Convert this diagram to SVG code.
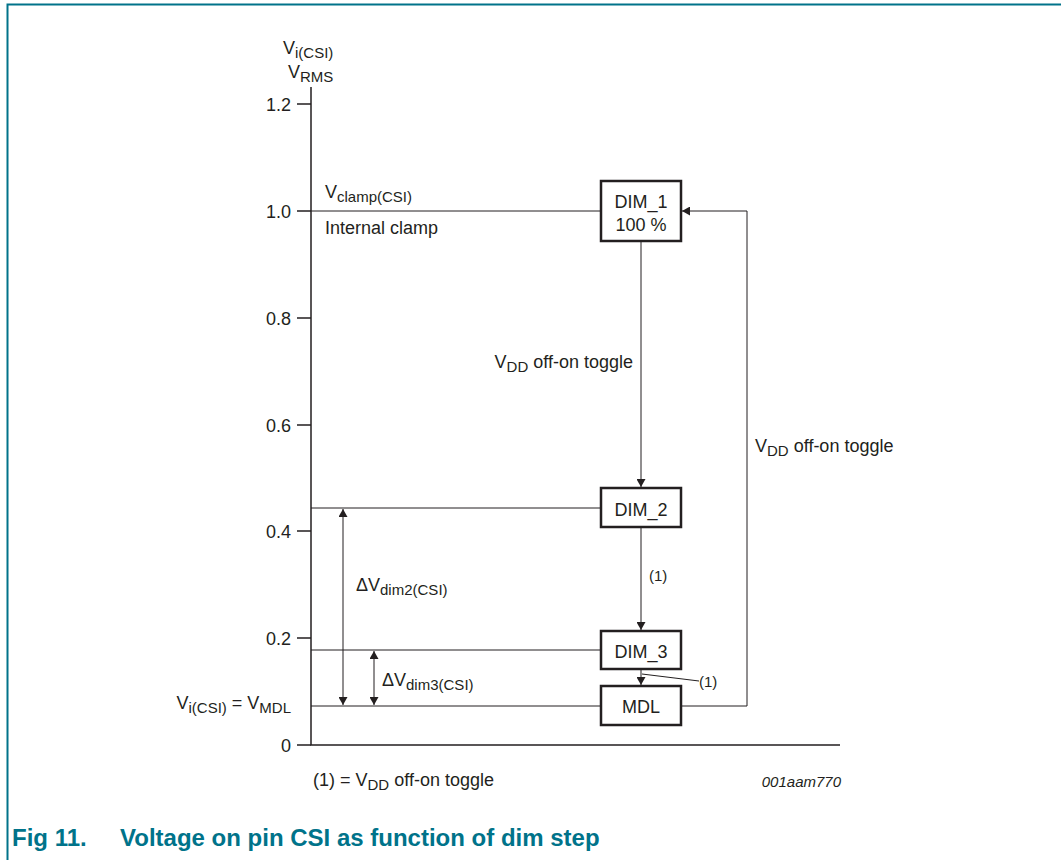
<svg xmlns="http://www.w3.org/2000/svg" width="1061" height="860" viewBox="0 0 1061 860">
<defs>
<marker id="ah" viewBox="0 0 10 10" refX="10" refY="5" markerWidth="8" markerHeight="9" markerUnits="userSpaceOnUse" orient="auto-start-reverse" preserveAspectRatio="none"><path d="M0,0 L10,5 L0,10 z" fill="#231f20"/></marker>
<style>
text{font-family:"Liberation Sans",Arial,sans-serif;fill:#231f20;font-size:18px}
.sub{font-size:15px}
.ln{stroke:#231f20;stroke-width:1;fill:none}
.ax{stroke:#231f20;stroke-width:1.5;fill:none}
.box{fill:#fff;stroke:#231f20;stroke-width:2.5}
.r{text-anchor:end}
.m{text-anchor:middle}
.cap{font-size:24px;font-weight:bold;fill:#00738a}
</style>
</defs>
<rect width="1061" height="860" fill="#fff"/>
<g id="frame"><path d="M7.5,860 V4.5 H1061" fill="none" stroke="#00738a" stroke-width="2"/></g>
<g id="axes">
<path class="ax" d="M311,87 V745 H840"/>
<path class="ax" d="M297,104 H311 M297,211 H311 M297,318 H311 M297,425 H311 M297,531 H311 M297,638 H311 M297,745 H311"/>
<text class="r" x="291" y="111">1.2</text>
<text class="r" x="291" y="218">1.0</text>
<text class="r" x="291" y="325">0.8</text>
<text class="r" x="291" y="432">0.6</text>
<text class="r" x="291" y="538">0.4</text>
<text class="r" x="291" y="645">0.2</text>
<text class="r" x="291" y="752">0</text>
<text x="283" y="54">V<tspan class="sub" dy="4">i(CSI)</tspan></text>
<text x="288" y="78">V<tspan class="sub" dy="4">RMS</tspan></text>
</g>
<g id="connectors">
<path class="ln" d="M311,211 H601"/>
<path class="ln" d="M311,508 H601"/>
<path class="ln" d="M311,650 H601"/>
<path class="ln" d="M311,706 H601"/>
<path class="ln" d="M641,241 V487" marker-end="url(#ah)"/>
<path class="ln" d="M641,527 V630" marker-end="url(#ah)"/>
<path class="ln" d="M641,669 V685" marker-end="url(#ah)"/>
<path class="ln" d="M681,706 H747 V211 H682" marker-end="url(#ah)"/>
<path class="ln" d="M343,509 V705" marker-start="url(#ah)" marker-end="url(#ah)"/>
<path class="ln" d="M374,651 V705" marker-start="url(#ah)" marker-end="url(#ah)"/>
<path class="ln" d="M642,674 L699,681"/>
</g>
<g id="DIM_1"><rect class="box" x="601" y="181" width="80" height="60"/><text class="m" x="641" y="208">DIM_1</text><text class="m" x="641" y="231">100 %</text></g>
<g id="DIM_2"><rect class="box" x="601" y="488" width="80" height="39"/><text class="m" x="641" y="516">DIM_2</text></g>
<g id="DIM_3"><rect class="box" x="601" y="631" width="80" height="38"/><text class="m" x="641" y="658">DIM_3</text></g>
<g id="MDL"><rect class="box" x="601" y="686" width="80" height="39"/><text class="m" x="641" y="713">MDL</text></g>
<g id="labels">
<text x="325" y="198">V<tspan class="sub" dy="4">clamp(CSI)</tspan></text>
<text x="325" y="234">Internal clamp</text>
<text class="r" x="633" y="368">V<tspan class="sub" dy="4">DD</tspan><tspan dy="-4"> off-on toggle</tspan></text>
<text x="755" y="452">V<tspan class="sub" dy="4">DD</tspan><tspan dy="-4"> off-on toggle</tspan></text>
<text x="649" y="581" style="font-size:15px">(1)</text>
<text x="699" y="687" style="font-size:15px">(1)</text>
<text x="356" y="591">ΔV<tspan class="sub" dy="4">dim2(CSI)</tspan></text>
<text x="382" y="686">ΔV<tspan class="sub" dy="4">dim3(CSI)</tspan></text>
<text class="r" x="291" y="709">V<tspan class="sub" dy="4">i(CSI)</tspan><tspan dy="-4"> = V</tspan><tspan class="sub" dy="4">MDL</tspan></text>
<text x="313" y="786">(1) = V<tspan class="sub" dy="4">DD</tspan><tspan dy="-4"> off-on toggle</tspan></text>
<text class="r" x="841" y="787" font-style="italic" style="font-size:15px">001aam770</text>
<text class="cap" x="12" y="846">Fig 11.</text>
<text class="cap" x="120" y="846">Voltage on pin CSI as function of dim step</text>
</g>
</svg>
